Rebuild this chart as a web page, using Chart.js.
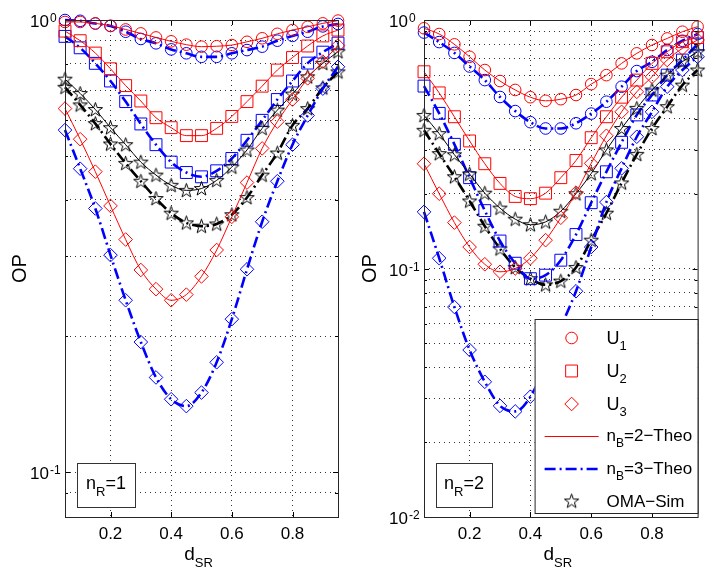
<!DOCTYPE html>
<html>
<head>
<meta charset="utf-8">
<script src="https://cdn.jsdelivr.net/npm/chart.js@4.4.1/dist/chart.umd.min.js"></script>
<style>
html,body{margin:0;padding:0;background:#fff;}
#wrap{position:relative;width:707px;height:573px;overflow:hidden;}
canvas{position:absolute;top:0;}
#c1{left:0;}
#c2{left:350px;}
</style>
</head>
<body>
<div id="wrap">
  <canvas id="c1" width="350" height="573"></canvas>
  <canvas id="c2" width="357" height="573"></canvas>
</div>
<script>
const FONT = '"Liberation Sans", Arial, Helvetica, sans-serif';

// x axis: d_SR
const dSR = [0.05, 0.10, 0.15, 0.20, 0.25, 0.30, 0.35, 0.40, 0.45, 0.50, 0.55, 0.60, 0.65, 0.70, 0.75, 0.80, 0.85, 0.90, 0.95];
const xTicks = [0.2, 0.4, 0.6, 0.8];
const xTickLabels = ['0.2', '0.4', '0.6', '0.8'];

// y grid (log) for each panel
const yGridR1 = [0.09, 0.1, 0.2, 0.3, 0.4, 0.5, 0.6, 0.7, 0.8, 0.9, 1];
const yGridR2 = [0.02, 0.03, 0.04, 0.05, 0.06, 0.07, 0.08, 0.09, 0.1, 0.2, 0.3, 0.4, 0.5, 0.6, 0.7, 0.8, 0.9, 1];
const yDecR1 = [0.1, 1];
const yExpR1 = ['-1', '0'];
const yDecR2 = [0.01, 0.1, 1];
const yExpR2 = ['-2', '-1', '0'];

// n_R = 1 (left)
const u1B2R1 = [0.99, 0.99, 0.983, 0.971, 0.953, 0.934, 0.915, 0.897, 0.882, 0.873, 0.875, 0.88, 0.895, 0.911, 0.932, 0.95, 0.966, 0.983, 0.997];
const u1B3R1 = [1.0, 0.996, 0.982, 0.97, 0.942, 0.908, 0.888, 0.861, 0.844, 0.829, 0.829, 0.844, 0.858, 0.873, 0.9, 0.922, 0.942, 0.968, 0.98];
const u2B2R1 = [0.945, 0.9, 0.845, 0.78, 0.716, 0.662, 0.608, 0.578, 0.555, 0.555, 0.576, 0.612, 0.66, 0.714, 0.775, 0.826, 0.876, 0.922, 0.95];
const u2B3R1 = [0.92, 0.868, 0.802, 0.733, 0.66, 0.589, 0.53, 0.485, 0.46, 0.45, 0.464, 0.494, 0.542, 0.6, 0.667, 0.733, 0.803, 0.849, 0.889];
const u3B2R1 = [0.637, 0.545, 0.462, 0.388, 0.327, 0.28, 0.254, 0.24, 0.247, 0.271, 0.31, 0.367, 0.437, 0.52, 0.596, 0.667, 0.743, 0.809, 0.878];
const u3B3R1 = [0.571, 0.469, 0.383, 0.302, 0.24, 0.194, 0.162, 0.145, 0.14, 0.15, 0.175, 0.218, 0.281, 0.358, 0.44, 0.53, 0.615, 0.705, 0.788];
const omaB2R1 = [0.74, 0.688, 0.634, 0.578, 0.53, 0.485, 0.454, 0.431, 0.42, 0.424, 0.442, 0.473, 0.516, 0.576, 0.632, 0.686, 0.749, 0.802, 0.851];
const omaB3R1 = [0.71, 0.649, 0.59, 0.532, 0.482, 0.44, 0.403, 0.374, 0.356, 0.35, 0.354, 0.371, 0.405, 0.454, 0.508, 0.585, 0.637, 0.708, 0.768];

// n_R = 2 (right)
const u1B2R2 = [0.926, 0.878, 0.798, 0.711, 0.629, 0.568, 0.523, 0.489, 0.473, 0.48, 0.499, 0.552, 0.6, 0.669, 0.734, 0.793, 0.843, 0.897, 0.94];
const u1B3R2 = [0.89, 0.815, 0.737, 0.65, 0.573, 0.49, 0.43, 0.388, 0.366, 0.366, 0.384, 0.42, 0.469, 0.539, 0.623, 0.679, 0.757, 0.825, 0.878];
const u2B2R2 = [0.619, 0.509, 0.408, 0.326, 0.264, 0.22, 0.195, 0.191, 0.201, 0.232, 0.272, 0.336, 0.408, 0.489, 0.573, 0.669, 0.745, 0.818, 0.85];
const u2B3R2 = [0.542, 0.421, 0.316, 0.232, 0.171, 0.129, 0.105, 0.091, 0.094, 0.108, 0.137, 0.184, 0.245, 0.322, 0.415, 0.499, 0.6, 0.69, 0.8];
const u3B2R2 = [0.264, 0.2, 0.153, 0.122, 0.104, 0.097, 0.1, 0.11, 0.13, 0.16, 0.202, 0.265, 0.342, 0.427, 0.514, 0.591, 0.69, 0.769, 0.831];
const u3B3R2 = [0.169, 0.11, 0.07, 0.047, 0.035, 0.028, 0.0266, 0.0305, 0.041, 0.058, 0.081, 0.122, 0.185, 0.253, 0.339, 0.427, 0.539, 0.629, 0.711];
const omaB2R2 = [0.413, 0.349, 0.287, 0.24, 0.201, 0.175, 0.158, 0.15, 0.154, 0.17, 0.2, 0.241, 0.3, 0.366, 0.441, 0.523, 0.6, 0.679, 0.745];
const omaB3R2 = [0.36, 0.29, 0.234, 0.187, 0.148, 0.12, 0.101, 0.091, 0.086, 0.089, 0.101, 0.13, 0.167, 0.221, 0.288, 0.366, 0.448, 0.547, 0.629];

const RED = '#ff0000', BLUE = '#0000ff', BLACK = '#000000';

// pentagram marker (matlab 'p')
function makeStar(r, color){
  const c = document.createElement('canvas');
  const s = Math.ceil(r * 2 + 4);
  c.width = s; c.height = s;
  const g = c.getContext('2d');
  g.beginPath();
  for(let i = 0; i < 10; i++){
    const rr = i % 2 ? r * 0.4 : r;
    const ang = -Math.PI / 2 + i * Math.PI / 5;
    g.lineTo(s / 2 + rr * Math.cos(ang), s / 2 + 0.5 + rr * Math.sin(ang));
  }
  g.closePath();
  g.strokeStyle = color; g.lineWidth = 1;
  g.stroke();
  return c;
}
const starImg = makeStar(7.5, BLACK);

const CIRC = { ps: 'circle', r: 5.8 };
const SQR  = { ps: 'rect', r: 8.4 };
const DIA  = { ps: 'rectRot', r: 6.8 };
const STAR = { ps: starImg, r: 7 };
const THIN = { lw: 1, dash: [] };
const DASHDOT = { lw: 2.6, dash: [11, 4, 2, 4] };

function series(vals, mk, color, st){
  return {
    data: vals.map((v, i) => ({ x: dSR[i], y: v })),
    borderColor: color,
    borderWidth: st.lw,
    borderDash: st.dash,
    borderCapStyle: 'butt',
    cubicInterpolationMode: 'monotone',
    pointStyle: mk.ps,
    pointRadius: mk.r,
    pointBorderColor: color,
    pointBorderWidth: 1,
    pointBackgroundColor: 'rgba(0,0,0,0)',
    fill: false,
    clip: false
  };
}

function panelSets(u1a, u1b, u2a, u2b, u3a, u3b, oa, ob){
  return [
    series(u1a, CIRC, RED, THIN),
    series(u2a, SQR, RED, THIN),
    series(u3a, DIA, RED, THIN),
    series(oa, STAR, BLACK, THIN),
    series(u1b, CIRC, BLUE, DASHDOT),
    series(u2b, SQR, BLUE, DASHDOT),
    series(u3b, DIA, BLUE, DASHDOT),
    series(ob, STAR, BLACK, DASHDOT)
  ];
}

// text with sub/superscripts: parts = [text, size, dy]
function rich(ctx, parts, x, y, align){
  let w = 0;
  parts.forEach(p => { ctx.font = p[1] + 'px ' + FONT; w += ctx.measureText(p[0]).width; });
  let cx = align === 'center' ? x - w / 2 : (align === 'right' ? x - w : x);
  ctx.textAlign = 'left';
  ctx.textBaseline = 'alphabetic';
  parts.forEach(p => {
    ctx.font = p[1] + 'px ' + FONT;
    ctx.fillText(p[0], cx, y + (p[2] || 0));
    cx += ctx.measureText(p[0]).width;
  });
}

const decor = {
  id: 'decor',
  afterDraw(chart, args, o){
    const { ctx, chartArea: a } = chart;
    const xs = chart.scales.x, ys = chart.scales.y;
    ctx.save();
    ctx.setLineDash([]);

    // inward tick marks
    ctx.strokeStyle = '#000'; ctx.lineWidth = 1;
    ctx.beginPath();
    xTicks.forEach(v => {
      const px = Math.round(xs.getPixelForValue(v)) + 0.5;
      ctx.moveTo(px, a.bottom); ctx.lineTo(px, a.bottom - 5);
      ctx.moveTo(px, a.top); ctx.lineTo(px, a.top + 5);
    });
    o.grid.forEach(v => {
      const py = Math.round(ys.getPixelForValue(v)) + 0.5;
      const len = o.decades.includes(v) ? 5 : 3;
      ctx.moveTo(a.left, py); ctx.lineTo(a.left + len, py);
      ctx.moveTo(a.right, py); ctx.lineTo(a.right - len, py);
    });
    ctx.stroke();

    // axes box
    ctx.strokeStyle = '#262626';
    ctx.strokeRect(a.left + 0.5, a.top + 0.5, a.right - a.left, a.bottom - a.top);

    // tick labels
    ctx.fillStyle = '#000';
    ctx.font = '17px ' + FONT;
    ctx.textAlign = 'center'; ctx.textBaseline = 'alphabetic';
    xTicks.forEach((v, i) => ctx.fillText(xTickLabels[i], xs.getPixelForValue(v), a.bottom + 22));
    o.decades.forEach((v, i) => {
      const py = ys.getPixelForValue(v);
      ctx.font = '17px ' + FONT; ctx.textAlign = 'right';
      ctx.fillText('10', a.left - 16, py + 7);
      ctx.font = '12px ' + FONT; ctx.textAlign = 'left';
      ctx.fillText(o.exps[i], a.left - 15, py + 2);
    });

    // axis titles
    ctx.save();
    ctx.translate(20, (a.top + a.bottom) / 2);
    ctx.rotate(-Math.PI / 2);
    ctx.font = '20px ' + FONT; ctx.textAlign = 'center'; ctx.textBaseline = 'middle';
    ctx.fillText('OP', 0, 0);
    ctx.restore();
    rich(ctx, [['d', 19], ['SR', 13, 7]], (a.left + a.right) / 2 - 3, a.bottom + 43, 'center');

    // n_R box
    const bx = a.left + 12, by = a.bottom - 54, bw = o.nrW, bh = 44;
    ctx.fillStyle = '#fff';
    ctx.fillRect(bx, by, bw, bh);
    ctx.strokeStyle = '#333';
    ctx.strokeRect(bx + 0.5, by + 0.5, bw, bh);
    ctx.fillStyle = '#000';
    rich(ctx, [['n', 18], ['R', 13, 7], ['=' + o.nr, 18]], bx + bw / 2, by + 26, 'center');

    // legend box (right panel only)
    if(o.legend){
      const lx = a.right - 163, ly = a.bottom - 198, lw = 163, lh = 194;
      ctx.fillStyle = '#fff';
      ctx.fillRect(lx, ly, lw, lh);
      ctx.strokeStyle = '#262626';
      ctx.strokeRect(lx + 0.5, ly + 0.5, lw, lh);
      const rows = [19, 52, 85, 117, 150, 182];
      const mx = lx + 37, tx = lx + 72;
      const mk = [[CIRC, RED], [SQR, RED], [DIA, RED]];
      mk.forEach((m, i) => {
        ctx.fillStyle = 'rgba(0,0,0,0)';
        ctx.strokeStyle = m[1]; ctx.lineWidth = 1;
        Chart.helpers.drawPoint(ctx, { pointStyle: m[0].ps, radius: m[0].r, rotation: 0, borderWidth: 1 }, mx, ly + rows[i]);
        ctx.fillStyle = '#000';
        rich(ctx, [['U', 18], [String(i + 1), 13, 6]], tx, ly + rows[i] + 6, 'left');
      });
      // theory lines
      ctx.lineCap = 'butt';
      ctx.strokeStyle = RED; ctx.lineWidth = 1; ctx.setLineDash([]);
      ctx.beginPath(); ctx.moveTo(lx + 10, ly + rows[3] + 0.5); ctx.lineTo(lx + 64, ly + rows[3] + 0.5); ctx.stroke();
      ctx.strokeStyle = BLUE; ctx.lineWidth = 2.6; ctx.setLineDash(DASHDOT.dash);
      ctx.beginPath(); ctx.moveTo(lx + 10, ly + rows[4]); ctx.lineTo(lx + 64, ly + rows[4]); ctx.stroke();
      ctx.setLineDash([]);
      ctx.fillStyle = '#000';
      rich(ctx, [['n', 17], ['B', 12, 6], ['=2\u2212Theo', 17]], tx, ly + rows[3] + 5, 'left');
      rich(ctx, [['n', 17], ['B', 12, 6], ['=3\u2212Theo', 17]], tx, ly + rows[4] + 5, 'left');
      ctx.drawImage(starImg, mx - starImg.width / 2, ly + rows[5] - starImg.height / 2);
      rich(ctx, [['OMA\u2212Sim', 17]], tx, ly + rows[5] + 6, 'left');
    }
    ctx.restore();
  }
};

function makeChart(id, sets, yMin, grid, decades, exps, pad, extra){
  return new Chart(document.getElementById(id), {
    type: 'line',
    data: { datasets: sets },
    options: {
      responsive: false,
      animation: false,
      events: [],
      layout: { padding: pad },
      plugins: {
        legend: { display: false },
        tooltip: { enabled: false },
        decor: Object.assign({ grid, decades, exps }, extra)
      },
      scales: {
        x: {
          type: 'linear', min: 0.05, max: 0.95,
          afterBuildTicks: s => { s.ticks = xTicks.map(v => ({ value: v })); },
          ticks: { display: false },
          grid: { color: 'rgba(0,0,0,0.8)', lineWidth: 1, drawTicks: false },
          border: { display: false, dash: [1, 4] }
        },
        y: {
          type: 'logarithmic', min: yMin, max: 1,
          afterBuildTicks: s => { s.ticks = grid.map(v => ({ value: v })); },
          ticks: { display: false },
          grid: { color: 'rgba(0,0,0,0.8)', lineWidth: 1, drawTicks: false },
          border: { display: false, dash: [1, 4] }
        }
      }
    },
    plugins: [decor]
  });
}

makeChart('c1',
  panelSets(u1B2R1, u1B3R1, u2B2R1, u2B3R1, u3B2R1, u3B3R1, omaB2R1, omaB3R1),
  0.0796, yGridR1, yDecR1, yExpR1,
  { left: 65, right: 12, top: 20, bottom: 56 },
  { nr: '1', nrW: 58, legend: false });

makeChart('c2',
  panelSets(u1B2R2, u1B3R2, u2B2R2, u2B3R2, u3B2R2, u3B3R2, omaB2R2, omaB3R2),
  0.01, yGridR2, yDecR2, yExpR2,
  { left: 74, right: 9, top: 20, bottom: 56 },
  { nr: '2', nrW: 56, legend: true });
</script>
</body>
</html>
